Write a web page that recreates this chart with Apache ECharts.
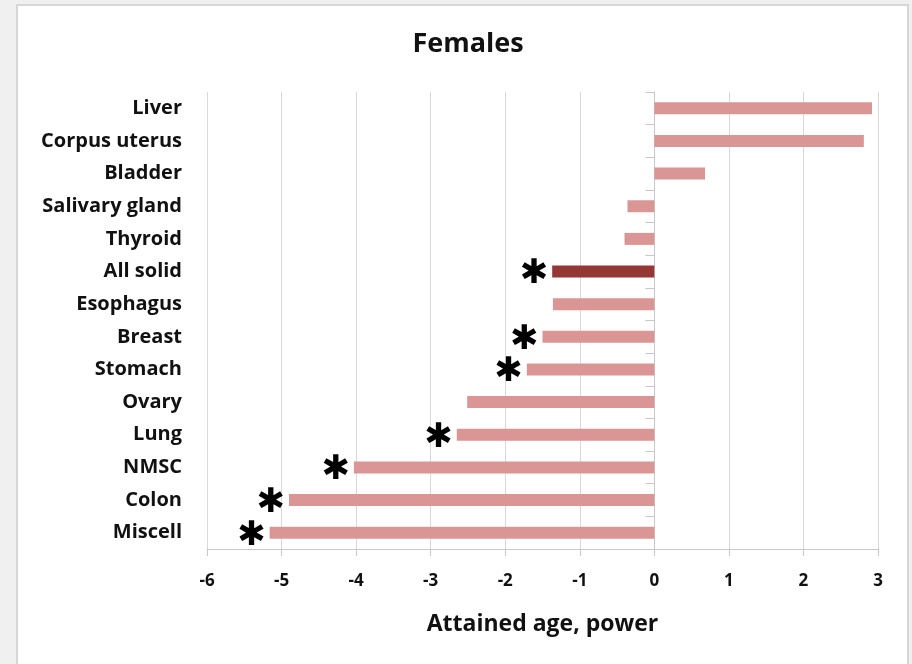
<!DOCTYPE html>
<html>
<head>
<meta charset="utf-8">
<script src="https://cdn.jsdelivr.net/npm/echarts@6/dist/echarts.min.js"></script>
<style>
  html, body { margin: 0; padding: 0; background: #f0f0f0; }
  #chart { width: 912px; height: 664px; }
</style>
</head>
<body>
<div id="chart"></div>
<script>
// Sites, listed top to bottom
const sites = ['Liver', 'Corpus uterus', 'Bladder', 'Salivary gland', 'Thyroid', 'All solid',
  'Esophagus', 'Breast', 'Stomach', 'Ovary', 'Lung', 'NMSC', 'Colon', 'Miscell'];
// Attained age power per site
const power = [2.92, 2.81, 0.68, -0.36, -0.40, -1.37, -1.36, -1.50, -1.71, -2.51, -2.65, -4.03, -4.90, -5.16];
// Sites whose estimate is statistically significant (marked with an asterisk)
const significant = [false, false, false, false, false, true, false, true, true, false, true, true, true, true];
// Highlighted summary row
const summarySite = 'All solid';
const xTicks = [-6, -5, -4, -3, -2, -1, 0, 1, 2, 3];

const FONT = 'Open Sans';
const PINK = '#d99694';
const DARK = '#953735';
const GRID = { left: 207, right: 34, top: 92, bottom: 115 };
const PLOT_W = 912 - GRID.left - GRID.right;

const xMin = xTicks[0];
const xMax = xTicks[xTicks.length - 1];
// pixel distance from the grid's left edge to the zero line
const zeroOffset = (0 - xMin) / (xMax - xMin) * PLOT_W;

const chart = echarts.init(document.getElementById('chart'), null, { renderer: 'canvas' });

const barData = power.map((v, i) => ({
  value: v,
  itemStyle: { color: sites[i] === summarySite ? DARK : PINK },
  label: { show: significant[i] }
}));

chart.setOption({
  backgroundColor: '#f0f0f0',
  animation: false,
  graphic: [{
    type: 'rect',
    z: -10,
    silent: true,
    shape: { x: 17, y: 5, width: 891, height: 664 },
    style: { fill: '#ffffff', stroke: '#d6d6d6', lineWidth: 2 }
  }],
  title: {
    text: 'Females',
    left: 463,
    top: 26,
    textAlign: 'center',
    textStyle: { fontFamily: FONT, fontWeight: 'bold', fontSize: 27, color: '#111111' }
  },
  grid: { left: GRID.left, right: GRID.right, top: GRID.top, bottom: GRID.bottom, containLabel: false },
  xAxis: {
    type: 'value',
    min: xMin,
    max: xMax,
    interval: 1,
    name: 'Attained age, power',
    nameLocation: 'middle',
    nameGap: 64,
    nameTextStyle: { fontFamily: FONT, fontWeight: 'bold', fontSize: 23, color: '#111111' },
    axisLine: { show: true, onZero: false, lineStyle: { color: '#c8c8c8', width: 1 } },
    axisTick: { show: true, length: 7, lineStyle: { color: '#c8c8c8' } },
    axisLabel: { fontFamily: FONT, fontWeight: 'bold', fontSize: 17, color: '#111111', margin: 24 },
    splitLine: { show: true, lineStyle: { color: '#d9d9d9', width: 1 } }
  },
  yAxis: [{
    type: 'category',
    data: sites,
    inverse: true,
    position: 'left',
    axisLine: { show: false },
    axisTick: { show: false },
    axisLabel: { fontFamily: FONT, fontWeight: 'bold', fontSize: 20, color: '#111111', margin: 25 }
  }, {
    // category axis line with ticks, drawn along x = 0
    type: 'category',
    data: sites,
    inverse: true,
    position: 'left',
    offset: -zeroOffset,
    axisLine: { show: true, onZero: false, lineStyle: { color: '#c8c8c8', width: 1 } },
    axisTick: { show: true, length: 9, lineStyle: { color: '#c8c8c8' } },
    axisLabel: { show: false }
  }],
  series: [{
    type: 'bar',
    yAxisIndex: 0,
    data: barData,
    barWidth: 12,
    label: {
      show: false,
      position: 'left',
      distance: 4,
      offset: [0, 3],
      formatter: '✱',
      fontFamily: 'DejaVu Sans',
      fontSize: 34,
      color: '#000000'
    }
  }]
});
</script>
</body>
</html>
